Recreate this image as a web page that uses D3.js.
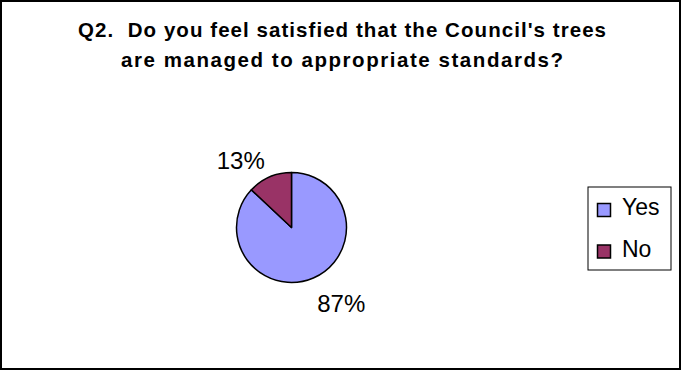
<!DOCTYPE html>
<html>
<head>
<meta charset="utf-8">
<script src="https://cdn.jsdelivr.net/npm/d3@7/dist/d3.min.js"></script>
<style>
  html, body { margin: 0; padding: 0; background: #fff; }
  svg { display: block; font-family: Arial, "Liberation Sans", sans-serif; }
</style>
</head>
<body>
<svg id="chart" width="683" height="376"></svg>
<script>
// Survey answers
const categories = ["Yes", "No"];
const values = [87, 13];
const colors = ["#9999FF", "#993366"];
const titleLines = [
  "Q2.  Do you feel satisfied that the Council's trees",
  "are managed to appropriate standards?"
];

const svg = d3.select("#chart");

// Outer frame
svg.append("rect")
  .attr("x", 1).attr("y", 1)
  .attr("width", 679).attr("height", 368)
  .attr("fill", "#fff")
  .attr("stroke", "#000")
  .attr("stroke-width", 2);

// Title (two centred lines, spaced out a little)
const titleWidths = [528, 442];
const title = svg.append("text")
  .attr("text-anchor", "middle")
  .attr("font-weight", "bold")
  .attr("font-size", 20.5)
  .attr("fill", "#000")
  .style("white-space", "pre");
titleLines.forEach((t, i) => {
  title.append("tspan")
    .attr("x", 342)
    .attr("y", 37 + i * 30)
    .attr("textLength", titleWidths[i])
    .attr("lengthAdjust", "spacing")
    .text(t);
});

// Pie
const cx = 291.5, cy = 227.5, r = 55;
const pie = d3.pie().sort(null).value(d => d.value);
const arcs = pie(categories.map((c, i) => ({ name: c, value: values[i], color: colors[i] })));
const arc = d3.arc().innerRadius(0).outerRadius(r);
const labelArc = d3.arc().innerRadius(80).outerRadius(80);

const g = svg.append("g").attr("transform", `translate(${cx},${cy})`);
g.selectAll("path")
  .data(arcs)
  .join("path")
  .attr("d", arc)
  .attr("fill", d => d.data.color)
  .attr("stroke", "#000")
  .attr("stroke-width", 1.5)
  .attr("stroke-linejoin", "round");

const total = d3.sum(values);
g.selectAll("text.lbl")
  .data(arcs)
  .join("text")
  .attr("class", "lbl")
  .attr("font-size", 24)
  .attr("fill", "#000")
  .each(function (d) {
    const [x, y] = labelArc.centroid(d);
    const right = x >= 0;
    d3.select(this)
      .attr("x", right ? x - 6 : x + 5)
      .attr("y", right ? y + 11 : y + 15)
      .attr("text-anchor", right ? "start" : "end")
      .text(Math.round(d.data.value / total * 100) + "%");
  });

// Legend
const legend = svg.append("g").attr("transform", "translate(588,187)");
legend.append("rect")
  .attr("x", 0).attr("y", 0)
  .attr("width", 83).attr("height", 83)
  .attr("fill", "#fff")
  .attr("stroke", "#000")
  .attr("stroke-width", 1);
const item = legend.selectAll("g.item")
  .data(categories)
  .join("g")
  .attr("class", "item")
  .attr("transform", (d, i) => `translate(0,${16.5 + i * 41.5})`);
item.append("rect")
  .attr("x", 9.5).attr("y", 0)
  .attr("width", 13).attr("height", 13)
  .attr("fill", (d, i) => colors[i])
  .attr("stroke", "#000")
  .attr("stroke-width", 1.5);
item.append("text")
  .attr("x", 34).attr("y", 11.5)
  .attr("font-size", 23)
  .attr("fill", "#000")
  .text(d => d);
</script>
</body>
</html>
